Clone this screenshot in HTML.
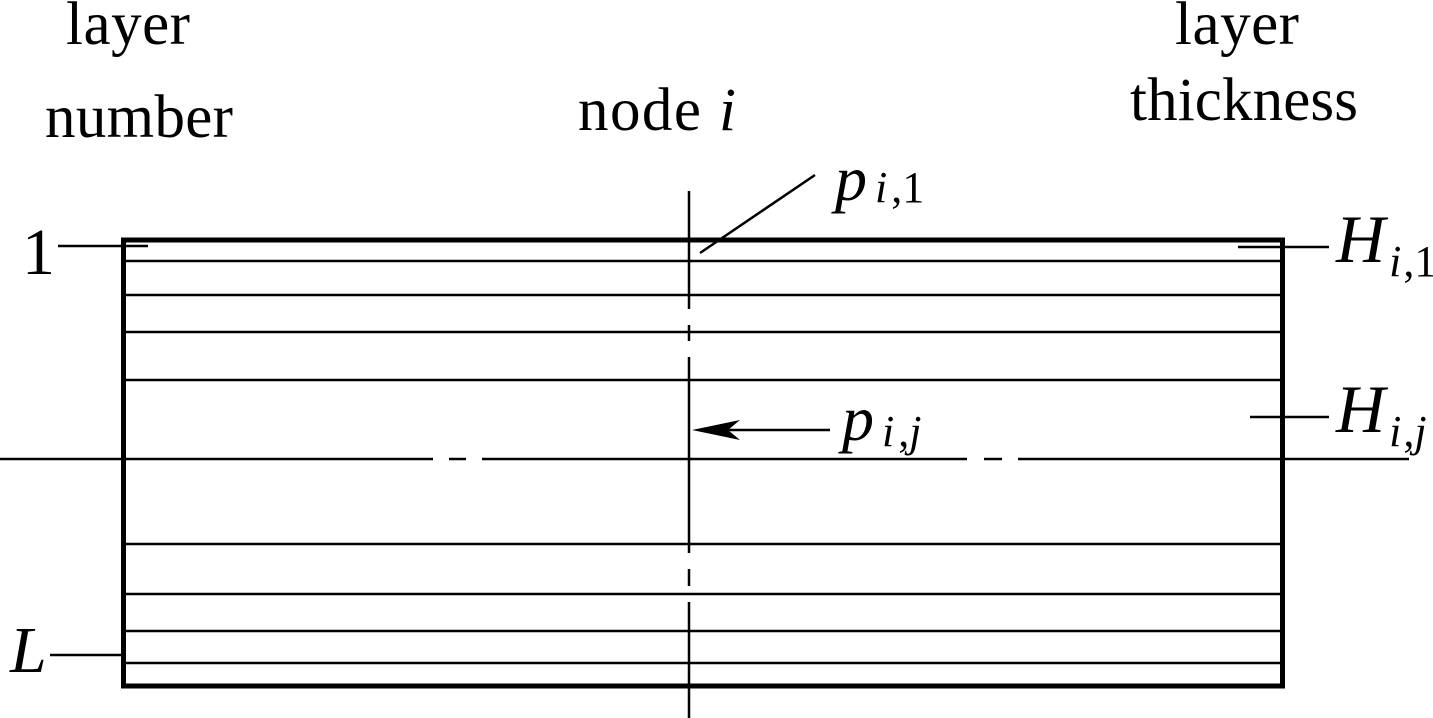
<!DOCTYPE html>
<html><head><meta charset="utf-8"><style>
html,body{margin:0;padding:0;background:#fff;}
svg{display:block;}
text{font-family:"Liberation Serif",serif;fill:#000;}
</style></head><body>
<svg width="1433" height="718" viewBox="0 0 1433 718" xmlns="http://www.w3.org/2000/svg">
<g stroke="#000" fill="none">
<rect x="123.5" y="240" width="1159" height="446" stroke-width="5"/>
<g stroke-width="2.5">
<line x1="126" y1="261" x2="1280" y2="261"/>
<line x1="126" y1="295" x2="1280" y2="295"/>
<line x1="126" y1="332" x2="1280" y2="332"/>
<line x1="126" y1="380" x2="1280" y2="380"/>
<line x1="126" y1="544" x2="1280" y2="544"/>
<line x1="126" y1="594" x2="1280" y2="594"/>
<line x1="126" y1="631" x2="1280" y2="631"/>
<line x1="126" y1="663" x2="1280" y2="663"/>
<line x1="0" y1="459" x2="433" y2="459"/>
<line x1="449" y1="459" x2="466" y2="459"/>
<line x1="482" y1="459" x2="967" y2="459"/>
<line x1="984" y1="459" x2="1002" y2="459"/>
<line x1="1018" y1="459" x2="1409" y2="459"/>
<line x1="689" y1="191" x2="689" y2="309"/>
<line x1="689" y1="325" x2="689" y2="341"/>
<line x1="689" y1="357" x2="689" y2="553"/>
<line x1="689" y1="569" x2="689" y2="586"/>
<line x1="689" y1="602" x2="689" y2="718"/>
<line x1="58" y1="246" x2="148" y2="246"/>
<line x1="50" y1="655" x2="123" y2="655"/>
<line x1="1238" y1="247" x2="1329" y2="247"/>
<line x1="1250" y1="417" x2="1329" y2="417"/>
<line x1="700" y1="253" x2="815" y2="175"/>
<line x1="705" y1="430" x2="830" y2="430"/>
</g>
</g>
<polygon points="692,430 740,420 728,430 740,440" fill="#000"/>
<g font-size="61">
<text x="128" y="44" text-anchor="middle" textLength="124">layer</text>
<text x="139" y="137" text-anchor="middle" textLength="188">number</text>
<text x="578" y="130" textLength="158">node <tspan font-style="italic">i</tspan></text>
<text x="1237" y="44" text-anchor="middle" textLength="124">layer</text>
<text x="1244" y="120" text-anchor="middle" textLength="228">thickness</text>
<text x="22" y="274" font-size="66">1</text>
<text x="10" y="672" font-size="66" font-style="italic">L</text>
<text x="835" y="200" font-size="64" font-style="italic">p<tspan font-size="44" dx="8" dy="2">i</tspan><tspan font-size="44" font-style="normal" dx="4">,1</tspan></text>
<text x="842" y="440" font-size="64" font-style="italic">p<tspan font-size="44" dx="8" dy="6">i</tspan><tspan font-size="44" font-style="normal" dx="4">,</tspan><tspan font-size="44">j</tspan></text>
<text x="1336" y="262" font-size="68" font-style="italic">H<tspan font-size="44" dx="4" dy="14">i</tspan><tspan font-size="44" font-style="normal" dx="2">,1</tspan></text>
<text x="1336" y="432" font-size="68" font-style="italic">H<tspan font-size="44" dx="4" dy="14">i</tspan><tspan font-size="44" font-style="normal" dx="2">,</tspan><tspan font-size="44">j</tspan></text>
</g>
</svg>
</body></html>
